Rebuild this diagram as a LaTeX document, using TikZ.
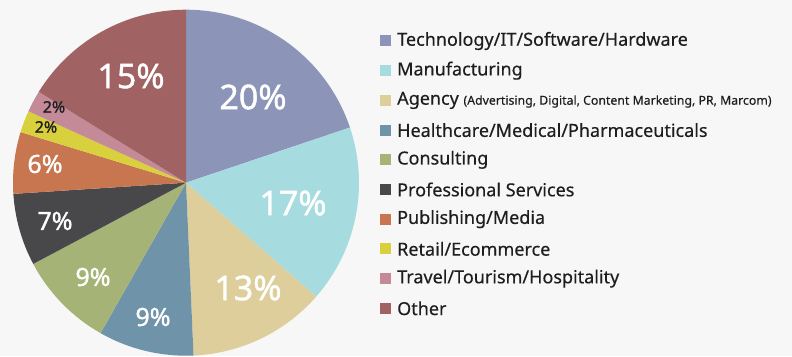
\documentclass[tikz,border=0pt]{standalone}
\usepackage{fontspec}
\setmainfont{Noto Sans}[FakeBold=0.35]
\newfontfamily\pctfont{Noto Sans}[FakeBold=1.2]
\definecolor{cTech}{HTML}{8C95B8}
\definecolor{cManu}{HTML}{A6DCE0}
\definecolor{cAgency}{HTML}{DDCE9C}
\definecolor{cHealth}{HTML}{6F93A8}
\definecolor{cConsult}{HTML}{A5B376}
\definecolor{cProf}{HTML}{48484A}
\definecolor{cPub}{HTML}{C87650}
\definecolor{cRetail}{HTML}{D8D03C}
\definecolor{cTravel}{HTML}{C48A98}
\definecolor{cOther}{HTML}{A06262}
\definecolor{bg}{HTML}{F7F7F7}
\definecolor{ink}{HTML}{1E1E1E}
\begin{document}
\begin{tikzpicture}[x=1pt,y=1pt,
    bigpct/.style={text=white,font=\pctfont\fontsize{34}{40}\selectfont},
    midpct/.style={text=white,font=\pctfont\fontsize{25}{30}\selectfont},
    smallpct/.style={text=ink,font=\pctfont\fontsize{16}{19}\selectfont},
    key/.style={minimum size=11pt,inner sep=0pt},
    keytext/.style={anchor=west,text=ink,inner sep=0pt,font=\fontsize{18}{21}\selectfont}]
            % background
            \fill[bg] (-186,-173.3) rectangle (606,182.7);
            \useasboundingbox (-186,-173.3) rectangle (606,182.7);
            % pie slices, clockwise from the top
            \fill[cTech] (0,0)--(90:173) arc[start angle=90,end angle=18.6,radius=173]--cycle;
            \fill[cManu] (0,0)--(18.6:173) arc[start angle=18.6,end angle=-41.2,radius=173]--cycle;
            \fill[cAgency] (0,0)--(-41.2:173) arc[start angle=-41.2,end angle=-87.5,radius=173]--cycle;
            \fill[cHealth] (0,0)--(-87.5:173) arc[start angle=-87.5,end angle=-119.6,radius=173]--cycle;
            \fill[cConsult] (0,0)--(-119.6:173) arc[start angle=-119.6,end angle=-152,radius=173]--cycle;
            \fill[cProf] (0,0)--(-152:173) arc[start angle=-152,end angle=-176.3,radius=173]--cycle;
            \fill[cPub] (0,0)--(-176.3:173) arc[start angle=-176.3,end angle=-197,radius=173]--cycle;
            \fill[cRetail] (0,0)--(-197:173) arc[start angle=-197,end angle=-204.4,radius=173]--cycle;
            \fill[cTravel] (0,0)--(-204.4:173) arc[start angle=-204.4,end angle=-211.7,radius=173]--cycle;
            \fill[cOther] (0,0)--(-211.7:173) arc[start angle=-211.7,end angle=-270,radius=173]--cycle;
            % percentages
            \node[bigpct] (pTech) at (67,85.7) {20\%};
            \node[bigpct] (pManu) at (107,-20.3) {17\%};
            \node[bigpct] (pAgency) at (62,-105.3) {13\%};
            \node[midpct] (pHealth) at (-33,-134.3) {9\%};
            \node[midpct] (pConsult) at (-93,-94.3) {9\%};
            \node[midpct] (pProf) at (-131,-38.3) {7\%};
            \node[midpct] (pPub) at (-141,18.7) {6\%};
            \node[smallpct] (pRetail) at (-140,55.7) {2\%};
            \node[smallpct] (pTravel) at (-132,75.7) {2\%};
            \node[bigpct] (pOther) at (-55,106.7) {15\%};
            % legend
            \node[key,fill=cTech] (kTech) at (199,141.7) {};
            \node[keytext] (tTech) at (211,141.7) {Technology/IT/Software/Hardware};
            \node[key,fill=cManu] (kManu) at (199,112) {};
            \node[keytext] (tManu) at (211,112) {Manufacturing};
            \node[key,fill=cAgency] (kAgency) at (199,82.3) {};
            \node[keytext] (tAgency) at (211,82.3) {Agency {\fontsize{12.3}{14}\selectfont (Advertising, Digital, Content Marketing, PR, Marcom)}};
            \node[key,fill=cHealth] (kHealth) at (199,52.6) {};
            \node[keytext] (tHealth) at (211,52.6) {Healthcare/Medical/Pharmaceuticals};
            \node[key,fill=cConsult] (kConsult) at (199,22.9) {};
            \node[keytext] (tConsult) at (211,22.9) {Consulting};
            \node[key,fill=cProf] (kProf) at (199,-6.8) {};
            \node[keytext] (tProf) at (211,-6.8) {Professional Services};
            \node[key,fill=cPub] (kPub) at (199,-36.5) {};
            \node[keytext] (tPub) at (211,-36.5) {Publishing/Media};
            \node[key,fill=cRetail] (kRetail) at (199,-66.2) {};
            \node[keytext] (tRetail) at (211,-66.2) {Retail/Ecommerce};
            \node[key,fill=cTravel] (kTravel) at (199,-95.9) {};
            \node[keytext] (tTravel) at (211,-95.9) {Travel/Tourism/Hospitality};
            \node[key,fill=cOther] (kOther) at (199,-125.6) {};
            \node[keytext] (tOther) at (211,-125.6) {Other};
        \end{tikzpicture}
\end{document}
